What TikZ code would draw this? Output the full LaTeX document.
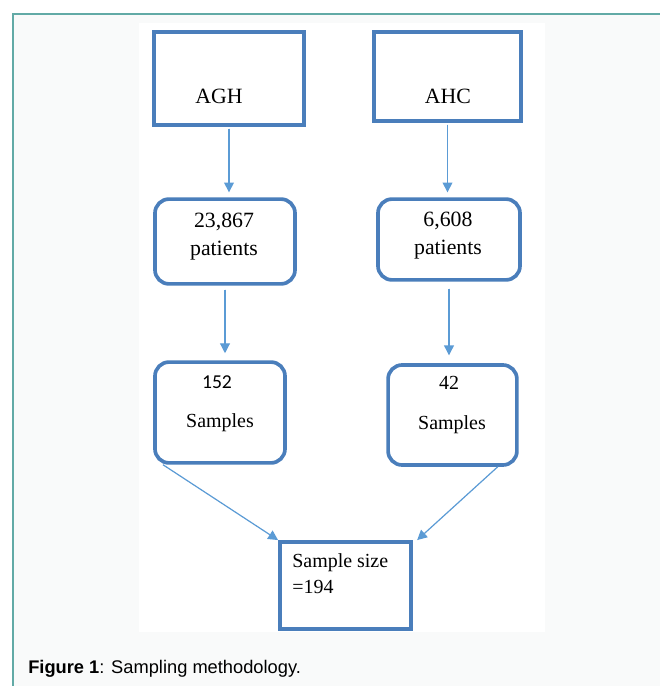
\documentclass[tikz,border=0pt]{standalone}
\usepackage{fontspec}
\setmainfont{Liberation Serif}
\newfontfamily\capfont{Liberation Sans}
\newfontfamily\numfont{Carlito}
\usetikzlibrary{arrows.meta, positioning}

\definecolor{boxblue}{RGB}{74,126,187}
\definecolor{lineblue}{RGB}{91,155,213}
\definecolor{frameteal}{RGB}{98,170,166}
\definecolor{pagegray}{RGB}{249,250,250}

\begin{document}
\begin{tikzpicture}[x=0.025cm, y=-0.025cm,
    rect node/.style={rectangle, draw=boxblue, line width=2.6pt, fill=white},
    round node/.style={rectangle, rounded corners=10pt, draw=boxblue, line width=2.6pt, fill=white},
    arrow/.style={-{Triangle[length=7pt, width=7pt]}, draw=lineblue, fill=lineblue, line width=0.85pt},
    big text/.style={font=\fontsize{15.5}{19}\selectfont, inner sep=0pt, anchor=base},
    small text/.style={font=\fontsize{14.2}{17}\selectfont, inner sep=0pt, anchor=base}
    ]

    \useasboundingbox (0,0) rectangle (660,686);

    % frame and white figure area
    \fill[pagegray] (12,13) rectangle (660,686);
    \draw[frameteal, line width=1.4pt] (13,686) -- (13,14) -- (660,14);
    \fill[white] (139,23) rectangle (545,632);

    % hospitals
    \node[rect node, minimum width=3.75cm, minimum height=2.32cm] (AGH) at (229,78.5) {};
    \node[big text] (AGHt) at (219,103) {AGH};

    \node[rect node, minimum width=3.67cm, minimum height=2.22cm] (AHC) at (447.5,76.5) {};
    \node[big text] (AHCt) at (448,103) {AHC};

    % patients
    \node[round node, minimum width=3.5cm, minimum height=2.12cm] (N1) at (225,241.5) {};
    \node[big text] (N1a) at (224,227) {23,867};
    \node[big text] (N1b) at (224,255) {patients};

    \node[round node, minimum width=3.55cm, minimum height=2.02cm] (N2) at (449,239.5) {};
    \node[big text] (N2a) at (448,226) {6,608};
    \node[big text] (N2b) at (448,254) {patients};

    % samples
    \node[round node, minimum width=3.25cm, minimum height=2.52cm] (S1) at (220,412.5) {};
    \node[small text, font=\numfont\fontsize{14}{17}\selectfont] (S1a) at (217,388) {152};
    \node[small text] (S1b) at (220,427) {Samples};

    \node[round node, minimum width=3.22cm, minimum height=2.5cm] (S2) at (452.5,415) {};
    \node[small text] (S2a) at (449,389) {42};
    \node[small text] (S2b) at (452,429) {Samples};

    % total
    \node[rect node, minimum width=3.28cm, minimum height=2.18cm] (T) at (345.5,585.5) {};
    \node[small text, anchor=base west] (Ta) at (292,567) {Sample size};
    \node[small text, anchor=base west] (Tb) at (292,593) {=194};

    % arrows
    \draw[arrow, shorten <=1.4pt, shorten >=3.5pt] (AGH.south) -- (AGH.south |- N1.north);
    \draw[arrow, shorten <=1.4pt, shorten >=3.5pt] (AHC.south) -- (AHC.south |- N2.north);
    \draw[arrow, shorten <=2.8pt, shorten >=5pt] (N1.south) -- (N1.south |- S1.north);
    \draw[arrow, shorten <=4.9pt, shorten >=5.6pt] (N2.south) -- (N2.south |- S2.north);
    \draw[arrow] ([xshift=7pt]S1.south west) -- (T.north west);
    \draw[arrow] ([xshift=-15pt]S2.south east) -- ([xshift=3pt]T.north east);

    % caption
    \node[inner sep=0pt, anchor=base west, font=\capfont\fontsize{13}{15}\selectfont] (CAP) at (28,673)
        {\textbf{Figure 1}: Sampling methodology.};

\end{tikzpicture}
\end{document}
